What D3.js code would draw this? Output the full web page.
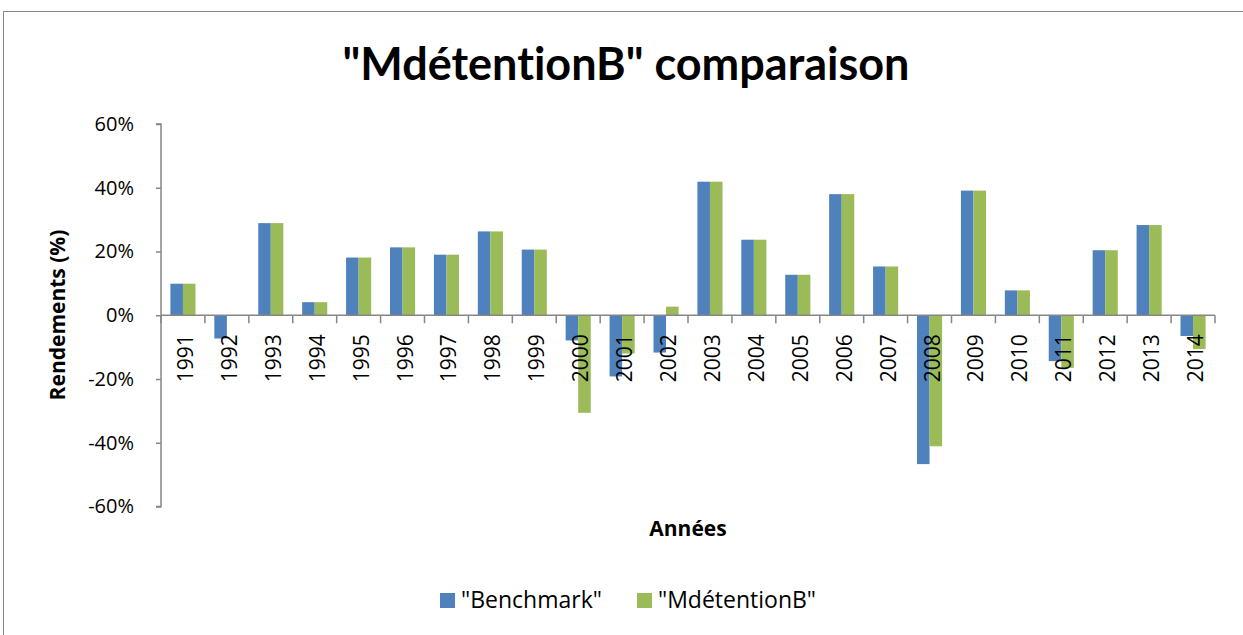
<!DOCTYPE html>
<html>
<head>
<meta charset="utf-8">
<script src="https://cdn.jsdelivr.net/npm/d3@7"></script>
<style>
  html, body { margin: 0; padding: 0; background: #fff; }
  svg { display: block; }
  text { font-family: "Open Sans", sans-serif; fill: #000; font-variant-ligatures: none; font-feature-settings: "liga" 0, "clig" 0; }
</style>
</head>
<body>
<svg id="chart" width="1243" height="635"></svg>
<script>
const years = ["1991","1992","1993","1994","1995","1996","1997","1998","1999","2000","2001","2002","2003","2004","2005","2006","2007","2008","2009","2010","2011","2012","2013","2014"];
const benchmark = [0.099,-0.073,0.289,0.041,0.181,0.213,0.190,0.263,0.206,-0.079,-0.192,-0.117,0.419,0.237,0.127,0.380,0.153,-0.467,0.391,0.078,-0.144,0.204,0.283,-0.065];
const mdetention = [0.099,0.000,0.289,0.041,0.181,0.213,0.190,0.263,0.206,-0.306,-0.120,0.027,0.419,0.237,0.127,0.380,0.153,-0.411,0.391,0.078,-0.165,0.204,0.283,-0.106];
const seriesNames = ["\"Benchmark\"", "\"MdétentionB\""];
const seriesColors = ["#4F81BD", "#9BBB59"];
const yTicks = [-0.6,-0.4,-0.2,0,0.2,0.4,0.6];
const yTickLabels = ["-60%","-40%","-20%","0%","20%","40%","60%"];
const titleText = "\"MdétentionB\" comparaison";
const xTitle = "Années";
const yTitle = "Rendements (%)";

const svg = d3.select("#chart");
const axisColor = "#868686";

// chart frame
svg.append("rect").attr("x", 3.5).attr("y", 11.5).attr("width", 1260).attr("height", 660)
  .attr("fill", "none").attr("stroke", "#888").attr("stroke-width", 1);

const plot = {left: 161, right: 1215, top: 124, bottom: 506.5};

const x0 = d3.scaleBand().domain(years).range([plot.left, plot.right]).paddingInner(0).paddingOuter(0);
const x1 = d3.scaleBand().domain([0,1]).range([0, x0.bandwidth()]).paddingInner(0).paddingOuter(0.75);
const y = d3.scaleLinear().domain([-0.6, 0.6]).range([plot.bottom, plot.top]);

// title
svg.append("text").attr("x", 626).attr("y", 80).attr("text-anchor", "middle")
  .style("font-family", "Lato, 'Open Sans', sans-serif")
  .style("font-size", "45px").style("font-weight", "bold").text(titleText);

// bars
const data = years.map((yr, i) => ({year: yr, vals: [benchmark[i], mdetention[i]]}));
const groups = svg.append("g").selectAll("g").data(data).join("g")
  .attr("transform", d => `translate(${x0(d.year)},0)`);
groups.selectAll("rect").data(d => d.vals.map((v, k) => ({v, k}))).join("rect")
  .attr("x", d => x1(d.k))
  .attr("width", x1.bandwidth())
  .attr("y", d => y(Math.max(0, d.v)))
  .attr("height", d => Math.abs(y(d.v) - y(0)))
  .attr("fill", d => seriesColors[d.k]);

// y axis
const yAxis = d3.axisLeft(y).tickValues(yTicks)
  .tickFormat((d, i) => yTickLabels[i]).tickSize(5).tickPadding(22);
const gy = svg.append("g").attr("transform", `translate(${plot.left},0)`).call(yAxis);
gy.select(".domain").attr("stroke", axisColor).attr("stroke-width", 1.5).attr("d", `M-5,${plot.top}H0V${plot.bottom}H-5`);
gy.selectAll(".tick line").attr("stroke", axisColor).attr("stroke-width", 1.5);
gy.selectAll(".tick text").style("font-size", "20px").style("font-family", "'Open Sans', sans-serif").attr("fill", "#000");

// x axis at zero
const xAxis = d3.axisBottom(x0).tickSize(0).tickFormat("");
const gx = svg.append("g").attr("transform", `translate(0,${y(0)})`).call(xAxis);
gx.select(".domain").attr("stroke", axisColor).attr("stroke-width", 1.5).attr("d", `M${plot.left},0H${plot.right}`);
gx.selectAll(".tick").remove();
// category boundary ticks
const bounds = years.map(yr => x0(yr)).concat([plot.right]);
gx.selectAll("line.bt").data(bounds).join("line").attr("class", "bt")
  .attr("x1", d => d).attr("x2", d => d).attr("y1", 0).attr("y2", 8)
  .attr("stroke", axisColor).attr("stroke-width", 1.5);
// rotated labels
gx.selectAll("text.yl").data(years).join("text").attr("class", "yl")
  .attr("transform", d => `translate(${x0(d) + x0.bandwidth()/2 + 10},19) rotate(-90)`)
  .attr("text-anchor", "end")
  .style("font-size", "21px").text(d => d);

// axis titles
svg.append("text").attr("x", 688).attr("y", 536).attr("text-anchor", "middle")
  .style("font-size", "21px").style("font-weight", "bold").text(xTitle);
svg.append("text").attr("transform", "translate(65,315) rotate(-90)").attr("text-anchor", "middle")
  .style("font-size", "21px").style("font-weight", "bold").text(yTitle);

// legend
const legendX = [440, 637];
const lg = svg.append("g").selectAll("g").data(seriesNames).join("g")
  .attr("transform", (d, i) => `translate(${legendX[i]},593)`);
lg.append("rect").attr("width", 15).attr("height", 15).attr("fill", (d, i) => seriesColors[i]);
lg.append("text").attr("x", 21).attr("y", 15).style("font-size", "23px").text(d => d);
</script>
</body>
</html>
